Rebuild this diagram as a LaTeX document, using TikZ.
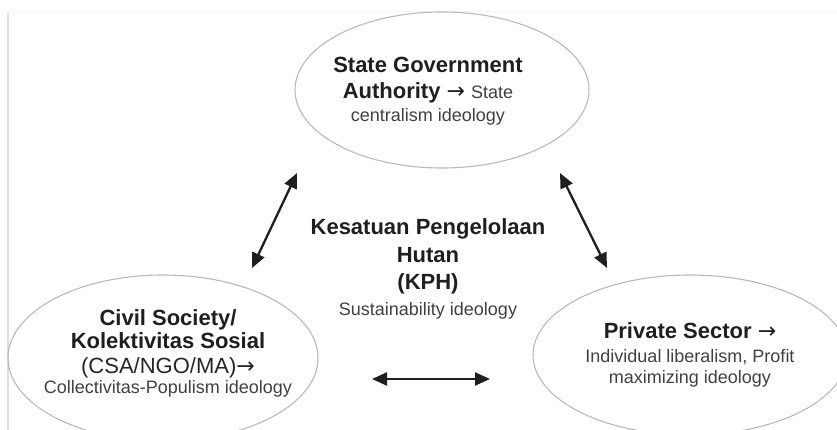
\documentclass[tikz,border=0pt]{standalone}
\usepackage{fontspec}
\setmainfont{Liberation Sans}
\newfontfamily\arrfont{DejaVu Sans}
\usetikzlibrary{positioning,arrows.meta,shapes.geometric}
\newcommand\bigtxt{\fontsize{22}{26}\selectfont\bfseries\color{black!88}}
\newcommand\ideotxt{\fontsize{18}{26}\selectfont\mdseries\color{black!75}}
\newcommand\toarr{{\arrfont\mdseries →}}
\tikzset{
  ell/.style={draw=gray!55,line width=1.1pt,ellipse,inner sep=0pt},
  lbl/.style={align=center,inner sep=0pt,anchor=base,font=\fontsize{22}{26}\selectfont},
  arr/.style={{Triangle[length=15pt,width=13pt]}-{Triangle[length=15pt,width=13pt]},line width=2.3pt,black!88},
}
\begin{document}
\begin{tikzpicture}[x=1pt,y=-1pt]
  \useasboundingbox (0,0) rectangle (837,430);
  % faint frame of the scan
  \draw[gray!25,line width=1.2pt] (8,430) -- (8,13);
  \draw[gray!8,line width=1pt] (8,12) -- (837,12);
  \node[ell,minimum width=294pt,minimum height=156pt] (state) at (442,90) {};
  \node[ell,minimum width=310pt,minimum height=166pt] (civil) at (163,358) {};
  \node[ell,minimum width=314pt,minimum height=160pt] (private) at (690,355) {};
  % texts, placed on the baseline of their last line
  \node[lbl] (statetxt) at (428,122) {\bigtxt State Government\\
    \bigtxt Authority \toarr{} \ideotxt State\\[-3pt]
    \ideotxt centralism ideology};
  \node[lbl] (kph) at (428,315) {\bigtxt Kesatuan Pengelolaan\\[2pt]
    \bigtxt Hutan\\[1pt]
    \bigtxt (KPH)\\
    \ideotxt Sustainability ideology};
  \node[lbl] (civiltxt) at (168,393) {\bigtxt Civil Society/\\[-3pt]
    \bigtxt Kolektivitas Sosial\\[-1pt]
    {\fontsize{22}{26}\selectfont\mdseries\color{black!85}(CSA/NGO/MA)\toarr}\\[-6pt]
    \ideotxt Collectivitas-Populism ideology};
  \node[lbl] (privtxt) at (690,383) {\bigtxt Private Sector \toarr\\[-2pt]
    \ideotxt Individual liberalism, Profit\\[-5pt]
    \ideotxt maximizing ideology};
  % connectors
  \coordinate (ul1) at (252,268); \coordinate (ul2) at (297,173);
  \coordinate (ur1) at (560,173); \coordinate (ur2) at (607,268);
  \coordinate (bt1) at (372,379); \coordinate (bt2) at (490,379);
  \draw[arr] (ul1) -- (ul2);
  \draw[arr] (ur1) -- (ur2);
  \draw[arr] (bt1) -- (bt2);
\end{tikzpicture}
\end{document}
